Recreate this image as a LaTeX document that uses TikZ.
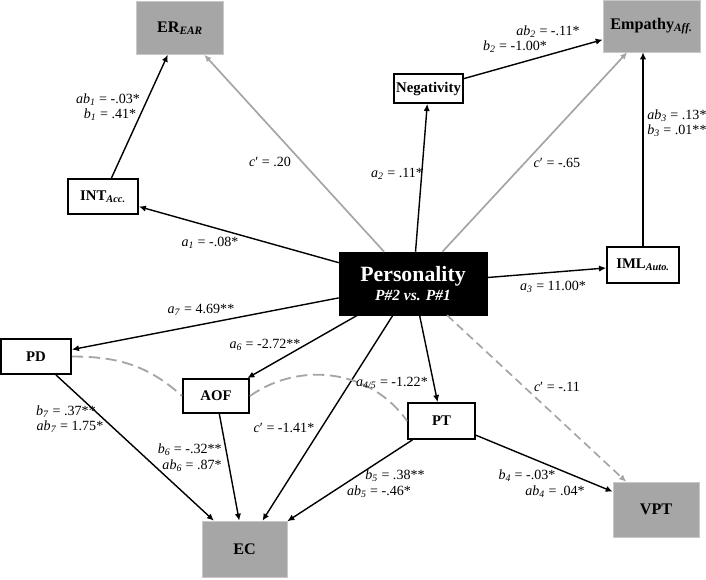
\documentclass[tikz,border=0pt]{standalone}
\usepackage{fontspec}
\setmainfont{Liberation Serif}
\usetikzlibrary{arrows.meta, positioning}
\definecolor{boxgray}{RGB}{166,166,166}
\definecolor{boxline}{RGB}{200,200,200}
\definecolor{linegray}{RGB}{165,165,165}
\newcommand{\cf}[2]{\textit{#1}\textsubscript{\textit{#2}}}
\newcommand{\nsub}[1]{\textsubscript{\textit{#1}}}

\begin{document}
\begin{tikzpicture}[
  x=0.25mm, y=-0.25mm,
  medbox/.style={draw, line width=1.3pt, fill=white, inner sep=0pt,
               font=\bfseries\fontsize{10.5}{12}\selectfont},
  outbox/.style={draw=boxline, fill=boxgray, inner sep=0pt,
               font=\bfseries\fontsize{11.5}{13}\selectfont},
  arr/.style={-{Latex[length=5pt, width=4.5pt]}, line width=1pt},
  garr/.style={arr, draw=linegray, line width=1.2pt},
  assoc/.style={draw=linegray, line width=1.3pt, dash pattern=on 8pt off 4pt},
  lab/.style={font=\fontsize{10}{12}\selectfont, inner sep=0pt}
]
\useasboundingbox (0,0) rectangle (706,579);

% predictor
\node[draw, fill=black, text=white, minimum width=37mm, minimum height=15.75mm,
      align=center, inner sep=0pt, font=\bfseries] (pers) at (413,283.5)
  {{\fontsize{15.5}{18}\selectfont Personality}\\[1pt]{\fontsize{11}{13}\selectfont\itshape P\#2 vs. P\#1}};

% mediators
\node[medbox, minimum width=17.5mm, minimum height=8.75mm] (int) at (103,196.5) {INT\nsub{Acc.}};
\node[medbox, minimum width=17.25mm, minimum height=7.25mm] (neg) at (428.5,88.5) {Negativity};
\node[medbox, minimum width=18mm, minimum height=9mm] (iml) at (643,265) {IML\nsub{Auto.}};
\node[medbox, minimum width=17.5mm, minimum height=8.75mm] (pd) at (36,356.5) {PD};
\node[medbox, minimum width=16.5mm, minimum height=8.5mm] (aof) at (216,396) {AOF};
\node[medbox, minimum width=16.75mm, minimum height=9mm] (pt) at (441.5,421) {PT};

% outcomes
\node[outbox, minimum width=21.75mm, minimum height=13.25mm] (er) at (180,28) {ER\nsub{EAR}};
\node[outbox, minimum width=24.25mm, minimum height=13mm] (emp) at (651.5,26) {Empathy\nsub{Aff.}};
\node[outbox, minimum width=21.5mm, minimum height=13.75mm] (vpt) at (656,509.5) {VPT};
\node[outbox, minimum width=21.25mm, minimum height=14mm] (ec) at (244.5,549) {EC};

% paths
\draw[garr] (pers) -- (er);
\draw[garr] (pers) -- (emp);
\draw[garr, dash pattern=on 6pt off 3.5pt] (pers) -- (vpt);
\draw[arr] (pers) -- (int);
\draw[arr] (int) -- (er);
\draw[arr] (pers) -- (neg);
\draw[arr] (neg) -- (emp);
\draw[arr] (pers) -- (iml);
\draw[arr] (iml.north) -- (iml.north |- emp.south);
\draw[arr] (pers) -- (pd);
\draw[arr] (pers) -- (aof);
\draw[arr] (pers) -- (ec);
\draw[arr] (pers) -- (pt);
\draw[arr] (pd) -- (ec);
\draw[arr] (aof) -- (ec);
\draw[arr] (pt) -- (ec);
\draw[arr] (pt) -- (vpt);

\draw[assoc] (pd.east) to[out=0, in=138] (aof.west);
\draw[assoc] (aof.east) to[out=35, in=125] (pt.west);

% coefficients
\node[lab] (ab1) at (108,100) {\cf{ab}{1} = -.03*};
\node[lab] (b1) at (110,115) {\cf{b}{1} = .41*};
\node[lab] (cer) at (270,162) {\textit{c}′ = .20};
\node[lab] (a1) at (210,243) {\cf{a}{1} = -.08*};
\node[lab] (a2) at (397,174) {\cf{a}{2} = .11*};
\node[lab] (ab2) at (548,32) {\cf{ab}{2} = -.11*};
\node[lab] (b2) at (515,47) {\cf{b}{2} = -1.00*};
\node[lab] (cemp) at (557,163) {\textit{c}′ = -.65};
\node[lab, anchor=west] (ab3) at (647,116) {\cf{ab}{3} = .13*};
\node[lab, anchor=west] (b3) at (647,131) {\cf{b}{3} = .01**};
\node[lab] (a3) at (553,287) {\cf{a}{3} = 11.00*};
\node[lab] (a7) at (201,310) {\cf{a}{7} = 4.69**};
\node[lab] (a6) at (265,345) {\cf{a}{6} = -2.72**};
\node[lab] (b7) at (66,412) {\cf{b}{7} = .37**};
\node[lab] (ab7) at (70,427) {\cf{ab}{7} = 1.75*};
\node[lab] (cec) at (284,428) {\textit{c}′ = -1.41*};
\node[lab, anchor=east] (b6) at (222,450) {\cf{b}{6} = -.32**};
\node[lab, anchor=east] (ab6) at (222,466) {\cf{ab}{6} = .87*};
\node[lab] (a45) at (392,383) {\cf{a}{4/5} = -1.22*};
\node[lab] (cvpt) at (557,387) {\textit{c}′ = -.11};
\node[lab] (b5) at (395,476) {\cf{b}{5} = .38**};
\node[lab] (ab5) at (379,492) {\cf{ab}{5} = -.46*};
\node[lab] (b4) at (527,476) {\cf{b}{4} = -.03*};
\node[lab] (ab4) at (555,492) {\cf{ab}{4} = .04*};
\end{tikzpicture}
\end{document}
